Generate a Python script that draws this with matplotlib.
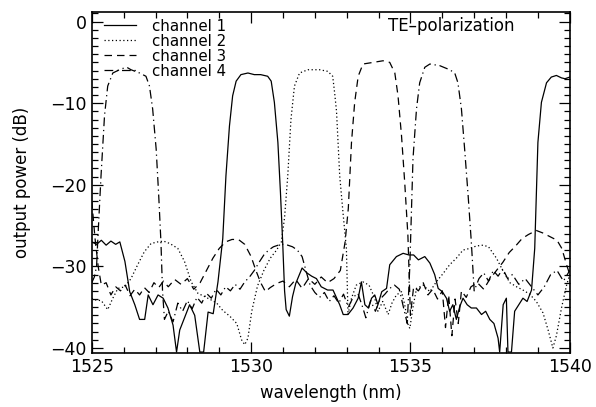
import matplotlib.pyplot as plt
from matplotlib.ticker import MultipleLocator

# channel 1 (solid)
ch1_wl = [1525.0, 1525.15, 1525.3, 1525.45, 1525.6, 1525.75, 1525.88, 1526.04, 1526.19, 1526.35,
          1526.5, 1526.66, 1526.77, 1526.92, 1527.08, 1527.24, 1527.39, 1527.55, 1527.66, 1527.76,
          1527.92, 1528.07, 1528.23, 1528.39, 1528.51, 1528.65, 1528.81, 1528.96, 1529.11, 1529.21,
          1529.32, 1529.42, 1529.53, 1529.68, 1529.9, 1530.1, 1530.3, 1530.52, 1530.63, 1530.73,
          1530.84, 1530.92, 1530.99, 1531.05, 1531.1, 1531.2, 1531.3, 1531.4, 1531.6, 1531.75,
          1531.9, 1532.05, 1532.2, 1532.4, 1532.57, 1532.78, 1532.89, 1533.04, 1533.2, 1533.36,
          1533.46, 1533.57, 1533.68, 1533.78, 1533.88, 1533.98, 1534.1, 1534.25, 1534.35, 1534.56,
          1534.77, 1534.95, 1535.1, 1535.25, 1535.45, 1535.61, 1535.76, 1535.87, 1536.0, 1536.13,
          1536.23, 1536.33, 1536.44, 1536.55, 1536.65, 1536.78, 1536.91, 1537.07, 1537.23, 1537.36,
          1537.49, 1537.62, 1537.75, 1537.8, 1537.91, 1538.01, 1538.06, 1538.17, 1538.27, 1538.4,
          1538.53, 1538.66, 1538.8, 1538.9, 1539.0, 1539.11, 1539.27, 1539.42, 1539.58, 1539.74,
          1539.85, 1540.0]
ch1_db = [-27.0, -27.3, -26.8, -27.4, -26.9, -27.3, -27.0, -29.4, -33.1, -34.7,
          -36.5, -36.5, -33.5, -34.7, -33.5, -33.9, -35.1, -37.2, -40.5, -37.8,
          -36.2, -34.7, -36.0, -40.5, -40.5, -35.6, -35.8, -31.9, -26.6, -18.9,
          -12.8, -9.1, -7.3, -6.5, -6.3, -6.5, -6.5, -6.7, -7.3, -9.9,
          -14.8, -20.9, -27.0, -33.0, -35.3, -36.1, -33.7, -32.1, -30.2, -30.8,
          -31.2, -31.5, -32.5, -32.9, -32.9, -34.7, -35.9, -35.9, -35.1, -33.9,
          -31.9, -34.7, -35.1, -33.9, -33.5, -34.7, -33.1, -32.7, -29.8, -28.8,
          -28.4, -28.6, -28.6, -29.2, -28.8, -29.6, -31.0, -32.7, -33.1, -33.9,
          -35.5, -34.7, -36.5, -34.9, -33.9, -34.7, -35.1, -35.1, -35.9, -35.5,
          -36.5, -37.0, -38.8, -40.5, -34.7, -33.9, -40.5, -40.5, -35.5, -34.7,
          -33.9, -34.3, -32.9, -27.8, -14.8, -9.9, -7.5, -6.8, -6.6, -6.9,
          -7.0, -6.8]

# channel 2 (dotted)
ch2_wl = [1525.0, 1525.08, 1525.3, 1525.5, 1525.66, 1525.82, 1526.04, 1526.23, 1526.44, 1526.65,
          1526.86, 1527.07, 1527.25, 1527.45, 1527.7, 1527.91, 1528.12, 1528.33, 1528.54, 1528.74,
          1528.92, 1529.11, 1529.33, 1529.55, 1529.7, 1529.8, 1529.9, 1530.02, 1530.2, 1530.4,
          1530.6, 1530.8, 1530.95, 1531.05, 1531.15, 1531.25, 1531.36, 1531.52, 1531.78, 1532.15,
          1532.41, 1532.56, 1532.62, 1532.68, 1532.78, 1532.89, 1532.99, 1533.04, 1533.15, 1533.3,
          1533.51, 1533.7, 1533.88, 1533.98, 1534.13, 1534.3, 1534.42, 1534.56, 1534.72, 1534.82,
          1534.93, 1534.98, 1535.08, 1535.19, 1535.4, 1535.61, 1535.81, 1536.02, 1536.23, 1536.44,
          1536.65, 1536.86, 1537.07, 1537.28, 1537.45, 1537.7, 1537.91, 1538.12, 1538.33, 1538.53,
          1538.74, 1538.95, 1539.16, 1539.32, 1539.47, 1539.58, 1539.74, 1539.9, 1540.0]
ch2_db = [-33.9, -34.1, -34.2, -35.3, -33.9, -32.7, -32.5, -31.5, -29.8, -28.2,
          -27.2, -27.0, -26.9, -27.2, -27.8, -29.4, -31.9, -33.3, -33.7, -34.1,
          -34.5, -35.4, -36.1, -37.0, -39.0, -39.6, -38.8, -35.5, -32.4, -30.5,
          -29.0, -28.0, -27.0, -24.0, -18.9, -12.0, -7.9, -6.3, -5.9, -5.9,
          -6.1, -6.7, -8.7, -11.0, -18.9, -23.7, -27.8, -35.9, -33.9, -32.3,
          -31.9, -32.3, -33.9, -35.5, -34.3, -35.9, -34.5, -33.5, -33.1, -34.7,
          -37.2, -37.6, -35.0, -32.7, -32.3, -33.1, -31.9, -30.9, -29.8, -29.0,
          -28.0, -27.8, -27.5, -27.4, -27.6, -29.0, -30.6, -32.0, -32.5, -32.9,
          -33.4, -34.3, -35.7, -37.8, -40.0, -38.5, -35.1, -32.3, -31.0]

# channel 3 (dashed)
ch3_wl = [1525.0, 1525.1, 1525.2, 1525.3, 1525.45, 1525.6, 1525.75, 1525.9, 1526.05, 1526.2,
          1526.35, 1526.5, 1526.65, 1526.8, 1526.95, 1527.1, 1527.25, 1527.4, 1527.6, 1527.8,
          1528.0, 1528.2, 1528.4, 1528.6, 1528.8, 1529.0, 1529.2, 1529.4, 1529.6, 1529.8,
          1530.0, 1530.15, 1530.3, 1530.45, 1530.6, 1530.8, 1531.0, 1531.2, 1531.4, 1531.6,
          1531.8, 1532.0, 1532.2, 1532.4, 1532.6, 1532.8, 1532.95, 1533.05, 1533.15, 1533.25,
          1533.36, 1533.51, 1533.83, 1534.14, 1534.35, 1534.51, 1534.61, 1534.72, 1534.82, 1534.92,
          1535.0, 1535.1, 1535.25, 1535.4, 1535.55, 1535.7, 1535.85, 1536.0, 1536.1, 1536.2,
          1536.3, 1536.4, 1536.5, 1536.6, 1536.75, 1536.9, 1537.1, 1537.3, 1537.5, 1537.7,
          1537.9, 1538.1, 1538.3, 1538.5, 1538.7, 1538.95, 1539.15, 1539.4, 1539.6, 1539.75,
          1539.9, 1540.0]
ch3_db = [-22.0, -26.5, -30.0, -32.3, -32.0, -33.5, -32.5, -33.0, -32.3, -33.6,
          -32.8, -33.5, -32.6, -33.2, -32.0, -32.6, -31.8, -32.5, -31.6, -32.2,
          -31.5, -32.8, -32.0, -30.5, -29.0, -27.8, -27.0, -26.7, -26.7, -27.3,
          -28.8, -30.5, -32.0, -33.1, -32.6, -32.1, -31.8, -32.5, -31.6, -32.7,
          -31.5, -32.2, -31.3, -32.0, -31.5, -30.5, -27.0, -22.9, -14.8, -9.9,
          -6.7, -5.2, -5.0, -4.8, -5.0, -6.3, -9.1, -14.0, -19.7, -26.2,
          -36.0, -32.5, -33.0, -32.0, -33.5, -32.8, -34.0, -33.0, -37.5, -33.5,
          -38.5, -34.0, -37.0, -33.0, -33.8, -32.5, -32.0, -32.8, -31.5, -30.5,
          -29.5, -28.3, -27.5, -26.6, -26.1, -25.6, -25.9, -26.4, -26.8, -27.8,
          -29.8, -31.0]

# channel 4 (dash-dot)
ch4_wl = [1525.0, 1525.08, 1525.15, 1525.19, 1525.29, 1525.4, 1525.5, 1525.66, 1525.92, 1526.1,
          1526.23, 1526.5, 1526.7, 1526.81, 1526.91, 1527.02, 1527.1, 1527.17, 1527.22, 1527.28,
          1527.4, 1527.55, 1527.7, 1527.85, 1528.0, 1528.15, 1528.3, 1528.45, 1528.6, 1528.75,
          1528.9, 1529.05, 1529.2, 1529.35, 1529.5, 1529.65, 1529.8, 1529.95, 1530.1, 1530.25,
          1530.4, 1530.55, 1530.7, 1530.85, 1531.0, 1531.15, 1531.3, 1531.45, 1531.6, 1531.72,
          1531.85, 1532.0, 1532.15, 1532.3, 1532.45, 1532.6, 1532.75, 1532.9, 1533.05, 1533.2,
          1533.35, 1533.5, 1533.6, 1533.75, 1533.9, 1534.05, 1534.2, 1534.35, 1534.5, 1534.65,
          1534.75, 1534.9, 1534.98, 1535.08, 1535.19, 1535.29, 1535.45, 1535.61, 1535.92, 1536.23,
          1536.39, 1536.49, 1536.6, 1536.7, 1536.81, 1536.91, 1537.0, 1537.15, 1537.3, 1537.45,
          1537.6, 1537.75, 1537.9, 1538.05, 1538.2, 1538.4, 1538.6, 1538.8, 1539.0, 1539.2,
          1539.4, 1539.6, 1539.8, 1540.0]
ch4_db = [-32.0, -31.3, -30.0, -26.6, -18.9, -11.5, -7.9, -6.3, -5.8, -5.6,
          -5.9, -6.3, -6.7, -7.9, -10.7, -15.6, -21.3, -27.0, -33.0, -36.5,
          -35.5, -36.8, -34.5, -35.5, -34.2, -35.2, -33.8, -34.5, -33.3, -33.9,
          -32.8, -33.5, -32.5, -33.0, -32.2, -32.8, -31.9, -31.3, -30.5, -29.5,
          -28.6, -28.0, -27.6, -27.4, -27.3, -27.4, -27.6, -28.0, -28.8, -30.5,
          -32.3, -33.2, -33.8, -33.2, -34.3, -33.6, -34.5, -33.4, -35.0, -33.8,
          -33.3, -35.0, -36.3, -34.2, -35.5, -34.0, -33.4, -32.7, -32.3, -32.8,
          -34.5, -37.0, -30.0, -16.8, -10.7, -7.5, -5.6, -5.2, -5.4, -5.9,
          -6.3, -7.5, -10.7, -15.6, -21.3, -27.0, -33.0, -31.5, -30.8, -31.8,
          -30.5, -31.2, -30.3, -31.5, -31.0, -32.2, -31.5, -32.5, -33.5, -32.5,
          -31.0, -30.5, -31.8, -30.5]

labels = ['channel 1', 'channel 2', 'channel 3', 'channel 4']
styles = ['-', (0, (1, 2)), (0, (6, 4)), (0, (7, 3, 1, 3))]


def main():
    plt.rcParams['font.family'] = 'DejaVu Sans'
    fig = plt.figure(figsize=(5.96, 4.07), dpi=100)
    ax = fig.add_axes([0.154, 0.133, 0.802, 0.838])

    series = [(ch1_wl, ch1_db), (ch2_wl, ch2_db), (ch3_wl, ch3_db), (ch4_wl, ch4_db)]
    for (wl, db), lab, ls in zip(series, labels, styles):
        ax.plot(wl, db, color='black', linestyle=ls, linewidth=0.9, label=lab)

    ax.set_xlim(1525, 1540)
    ax.set_ylim(-40.6, 1.2)
    ax.xaxis.set_major_locator(MultipleLocator(5))
    ax.xaxis.set_minor_locator(MultipleLocator(1))
    ax.yaxis.set_major_locator(MultipleLocator(10))
    ax.yaxis.set_minor_locator(MultipleLocator(1))
    ax.tick_params(which='both', direction='in', top=True, right=True,
                   labelsize=12.5, width=0.9)
    ax.tick_params(which='major', length=8)
    ax.tick_params(which='minor', length=4)
    for s in ax.spines.values():
        s.set_linewidth(1.2)

    ax.set_xlabel('wavelength (nm)', fontsize=12, labelpad=6)
    ax.set_ylabel('output power (dB)', fontsize=12, labelpad=14)

    ax.text(0.751, 0.985, 'TE–polarization', transform=ax.transAxes,
            ha='center', va='top', fontsize=12)

    ax.legend(loc='upper left', bbox_to_anchor=(0.012, 1.0), frameon=False,
              fontsize=10.8, labelspacing=0.0, handlelength=2.1,
              handletextpad=1.1, borderaxespad=0.3, borderpad=0.15)

    fig.savefig('out.png', dpi=100)


if __name__ == '__main__':
    main()
